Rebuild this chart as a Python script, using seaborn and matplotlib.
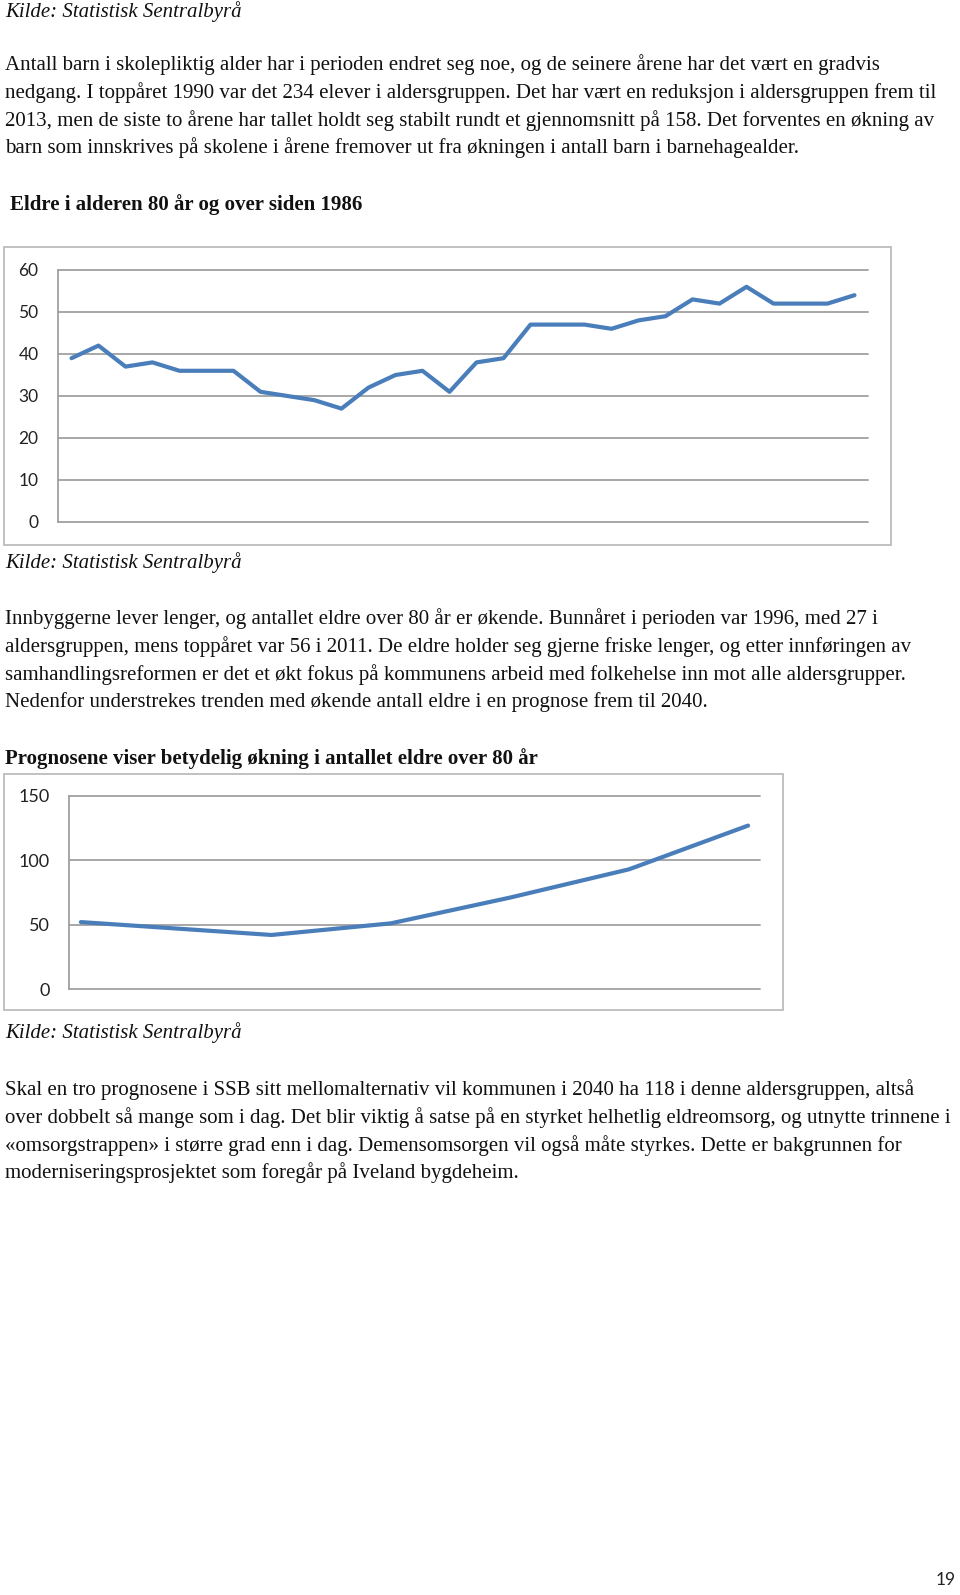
import numpy as np
import pandas as pd
import seaborn as sns
import matplotlib.pyplot as plt
from matplotlib.patches import Rectangle

# chart 1: eldre 80+ siden 1986
years_hist = list(range(1986, 2016))
eldre_80 = [39, 42, 37, 38, 36, 36, 36, 31, 30, 29, 27, 32, 35, 36, 31,
            38, 39, 47, 47, 47, 46, 48, 49, 53, 52, 56, 52, 52, 52, 54]
yticks_hist = [0, 10, 20, 30, 40, 50, 60]

# chart 2: prognose
years_prog = [2012, 2020, 2025, 2030, 2035, 2040]
prognose_80 = [52, 42, 51, 71, 93, 127]
yticks_prog = [0, 50, 100, 150]

kilde = "Kilde: Statistisk Sentralbyrå"
title_1 = "Eldre i alderen 80 år og over siden 1986"
title_2 = "Prognosene viser betydelig økning i antallet eldre over 80 år"
para_1 = [
    "Antall barn i skolepliktig alder har i perioden endret seg noe, og de seinere årene har det vært en gradvis",
    "nedgang. I toppåret 1990 var det 234 elever i aldersgruppen. Det har vært en reduksjon i aldersgruppen frem til",
    "2013, men de siste to årene har tallet holdt seg stabilt rundt et gjennomsnitt på 158. Det forventes en økning av",
    "barn som innskrives på skolene i årene fremover ut fra økningen i antall barn i barnehagealder.",
]
para_2 = [
    "Innbyggerne lever lenger, og antallet eldre over 80 år er økende. Bunnåret i perioden var 1996, med 27 i",
    "aldersgruppen, mens toppåret var 56 i 2011. De eldre holder seg gjerne friske lenger, og etter innføringen av",
    "samhandlingsreformen er det et økt fokus på kommunens arbeid med folkehelse inn mot alle aldersgrupper.",
    "Nedenfor understrekes trenden med økende antall eldre i en prognose frem til 2040.",
]
para_3 = [
    "Skal en tro prognosene i SSB sitt mellomalternativ vil kommunen i 2040 ha 118 i denne aldersgruppen, altså",
    "over dobbelt så mange som i dag. Det blir viktig å satse på en styrket helhetlig eldreomsorg, og utnytte trinnene i",
    "«omsorgstrappen» i større grad enn i dag. Demensomsorgen vil også måte styrkes. Dette er bakgrunnen for",
    "moderniseringsprosjektet som foregår på Iveland bygdeheim.",
]

W, H = 960, 1595
BLUE = '#4a7ebb'
GRID = '#a0a0a0'
BODY = 15.0

sns.set_style('white')
plt.rcParams['font.family'] = ['Liberation Serif', 'DejaVu Serif']

fig = plt.figure(figsize=(W / 100, H / 100), dpi=100)


def rect(x0, y0, x1, y1):
    return [x0 / W, 1 - y1 / H, (x1 - x0) / W, (y1 - y0) / H]


def frame(x0, y0, x1, y1):
    fig.patches.append(Rectangle((x0 / W, 1 - y1 / H), (x1 - x0) / W, (y1 - y0) / H,
                                 transform=fig.transFigure, fill=False,
                                 edgecolor='#bcbcbc', lw=1.3))


def text(x, y, s, **kw):
    fig.text(x / W, 1 - y / H, s, va='center', ha='left', color='#111111', **kw)


def paragraph(y0, lines, step=27.6):
    for i, l in enumerate(lines):
        text(5, y0 + i * step, l, fontsize=BODY)


def line_chart(box, x, y, xlim, yticks, labelsize):
    ax = fig.add_axes(box)
    df = pd.DataFrame({'year': x, 'value': y})
    sns.lineplot(data=df, x='year', y='value', ax=ax, color=BLUE, lw=3.0,
                 solid_joinstyle='round', solid_capstyle='round')
    ax.set_xlim(*xlim)
    ax.set_ylim(yticks[0], yticks[-1])
    ax.set_yticks(yticks)
    ax.set_xticks([])
    ax.set_xlabel('')
    ax.set_ylabel('')
    ax.yaxis.grid(True, color=GRID, lw=1.3)
    for g in ax.get_ygridlines():
        g.set_clip_on(False)
    ax.set_axisbelow(True)
    for s in ['top', 'right', 'bottom']:
        ax.spines[s].set_visible(False)
    ax.spines['left'].set_color(GRID)
    ax.spines['left'].set_linewidth(1.3)
    ax.tick_params(axis='y', length=4.5, width=1.3, color=GRID, pad=9.5,
                   labelsize=labelsize, labelcolor='#222222', labelfontfamily='Lato')
    ax.patch.set_alpha(0)
    return ax


# top text
text(5, 12, kilde, fontsize=BODY, style='italic')
paragraph(65, para_1)

# chart 1
text(10, 205, title_1, fontsize=BODY, weight='bold')
frame(4, 247, 891, 545)
line_chart(rect(58, 270, 868, 522), years_hist, eldre_80,
           (1985.5, 2015.5), yticks_hist, 12.5)
text(5, 563, kilde, fontsize=BODY, style='italic')

paragraph(619, para_2)

# chart 2
text(5, 759, title_2, fontsize=BODY, weight='bold')
frame(4, 774, 783, 1010)
line_chart(rect(69, 796, 760, 989), years_prog, prognose_80,
           (2011.5, 2040.5), yticks_prog, 13)
text(5, 1033, kilde, fontsize=BODY, style='italic')

paragraph(1090, para_3)

fig.text(946 / W, 1 - 1580 / H, "19", ha='center', va='center',
         fontsize=12.5, family='Lato', color='#222222')

fig.savefig('out.png', dpi=100)
